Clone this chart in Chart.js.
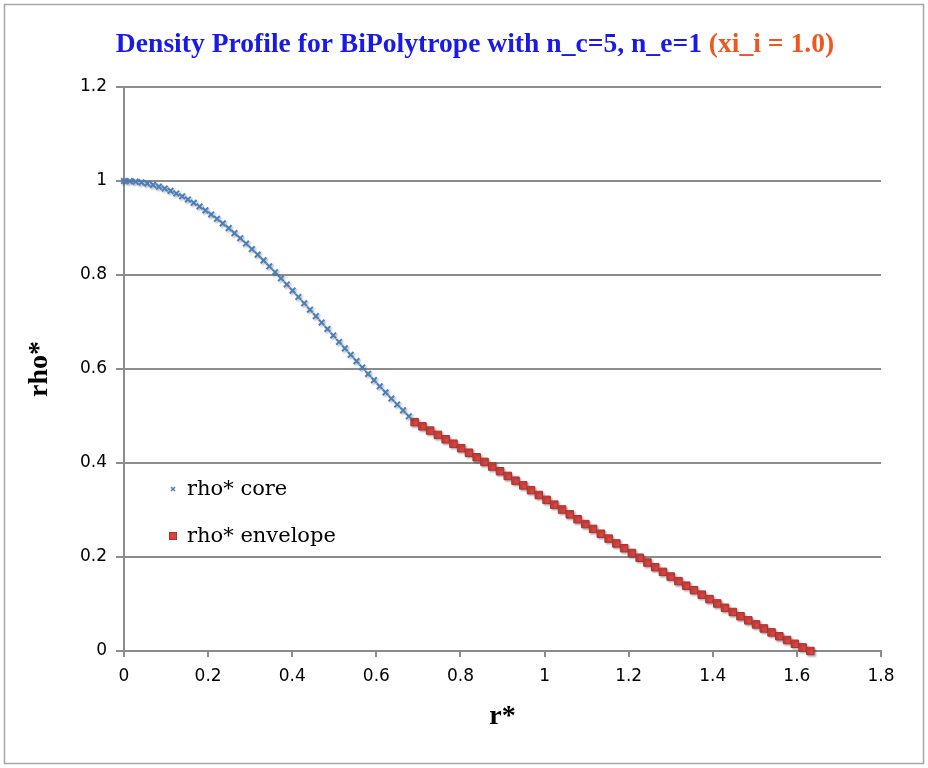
<!DOCTYPE html>
<html>
<head>
<meta charset="utf-8">
<script src="https://cdn.jsdelivr.net/npm/chart.js@4.4.0/dist/chart.umd.min.js"></script>
<style>
  body { margin: 0; background: #fff; }
  canvas { display: block; }
</style>
</head>
<body>
<canvas id="densityChart" width="928" height="768"></canvas>
<script>
// values
const coreR = [
  0, 0.0138, 0.0276, 0.0415, 0.0553, 0.0691, 0.0829, 0.0967, 0.1106, 0.1244,
  0.1382, 0.1520, 0.1658, 0.1797, 0.1935, 0.2073, 0.2211, 0.2349, 0.2488, 0.2626,
  0.2764, 0.2902, 0.3040, 0.3179, 0.3317, 0.3455, 0.3593, 0.3731, 0.3870, 0.4008,
  0.4146, 0.4284, 0.4422, 0.4561, 0.4699, 0.4837, 0.4975, 0.5113, 0.5252, 0.5390,
  0.5528, 0.5666, 0.5804, 0.5943, 0.6081, 0.6219, 0.6357, 0.6495, 0.6634, 0.6772
];
const coreRho = [
  1.0000, 0.9997, 0.9987, 0.9970, 0.9947, 0.9917, 0.9881, 0.9839, 0.9790, 0.9735,
  0.9674, 0.9608, 0.9536, 0.9458, 0.9375, 0.9288, 0.9195, 0.9098, 0.8997, 0.8891,
  0.8782, 0.8669, 0.8553, 0.8433, 0.8311, 0.8186, 0.8059, 0.7930, 0.7799, 0.7667,
  0.7533, 0.7398, 0.7262, 0.7125, 0.6988, 0.6851, 0.6713, 0.6576, 0.6439, 0.6303,
  0.6167, 0.6032, 0.5897, 0.5764, 0.5632, 0.5502, 0.5372, 0.5245, 0.5119, 0.4994
];
const envR = [
  0.6910, 0.7095, 0.7279, 0.7464, 0.7648, 0.7833, 0.8017, 0.8202, 0.8386, 0.8571,
  0.8755, 0.8940, 0.9124, 0.9309, 0.9493, 0.9678, 0.9862, 1.0047, 1.0231, 1.0416,
  1.0600, 1.0785, 1.0969, 1.1154, 1.1338, 1.1523, 1.1707, 1.1892, 1.2076, 1.2261,
  1.2445, 1.2630, 1.2814, 1.2999, 1.3183, 1.3368, 1.3552, 1.3737, 1.3921, 1.4106,
  1.4290, 1.4475, 1.4659, 1.4844, 1.5028, 1.5213, 1.5397, 1.5582, 1.5766, 1.5951,
  1.6135, 1.6320
];
const envRho = [
  0.4870, 0.4781, 0.4690, 0.4598, 0.4505, 0.4411, 0.4315, 0.4219, 0.4122, 0.4024,
  0.3925, 0.3825, 0.3725, 0.3624, 0.3524, 0.3422, 0.3319, 0.3216, 0.3114, 0.3011,
  0.2908, 0.2804, 0.2701, 0.2598, 0.2495, 0.2392, 0.2289, 0.2187, 0.2086, 0.1984,
  0.1883, 0.1783, 0.1684, 0.1585, 0.1487, 0.1390, 0.1294, 0.1199, 0.1105, 0.1012,
  0.0920, 0.0830, 0.0740, 0.0652, 0.0566, 0.0480, 0.0396, 0.0314, 0.0233, 0.0154,
  0.0076, 0.0000
];
const xTicks = [0, 0.2, 0.4, 0.6, 0.8, 1, 1.2, 1.4, 1.6, 1.8];
const yTicks = [0, 0.2, 0.4, 0.6, 0.8, 1, 1.2];
const seriesNames = ['rho* core', 'rho* envelope'];
const titleMain = 'Density Profile for BiPolytrope with n_c=5, n_e=1 ';
const titleExtra = '(xi_i = 1.0)';

const toPoints = (xs, ys) => xs.map((x, i) => ({ x: x, y: ys[i] }));
const fmt = v => String(Math.round(v * 10) / 10);

const gridGrey = '#8c8c8c';
const coreBlue = '#4a7ebb';
const envRed = '#d9433f';
const envEdge = '#a83230';

// white page + thin grey frame
const frame = {
  id: 'frame',
  beforeDraw(chart) {
    const ctx = chart.ctx;
    ctx.save();
    ctx.fillStyle = '#fff';
    ctx.fillRect(0, 0, chart.width, chart.height);
    ctx.strokeStyle = '#a6a6a6';
    ctx.lineWidth = 1.5;
    ctx.strokeRect(4.5, 4.5, chart.width - 9, chart.height - 9);
    ctx.restore();
  }
};

// two-colour title
const twoTone = {
  id: 'twoTone',
  afterDraw(chart) {
    const ctx = chart.ctx;
    ctx.save();
    ctx.font = 'bold 27.6px "Liberation Serif"';
    ctx.textBaseline = 'alphabetic';
    const w1 = ctx.measureText(titleMain).width;
    const w2 = ctx.measureText(titleExtra).width;
    let x = 475 - (w1 + w2) / 2;
    ctx.fillStyle = '#1a1ae8';
    ctx.fillText(titleMain, x, 52);
    ctx.fillStyle = '#f0561e';
    ctx.fillText(titleExtra, x + w1, 52);
    ctx.restore();
  }
};

// soft shadow under the markers
const markerShadow = {
  id: 'markerShadow',
  beforeDatasetsDraw(chart) {
    const ctx = chart.ctx;
    ctx.save();
    ctx.shadowColor = 'rgba(0,0,0,0.28)';
    ctx.shadowBlur = 2;
    ctx.shadowOffsetX = 1.5;
    ctx.shadowOffsetY = 1.5;
  },
  afterDatasetsDraw(chart) {
    chart.ctx.restore();
  }
};

// legend sitting inside the plot
const innerLegend = {
  id: 'innerLegend',
  afterDatasetsDraw(chart) {
    const ctx = chart.ctx;
    ctx.save();
    ctx.font = '21px "DejaVu Serif"';
    ctx.textBaseline = 'middle';
    chart.data.datasets.forEach((ds, i) => {
      const x = 173, y = 489 + i * 47;
      if (i === 0) {
        ctx.strokeStyle = ds.borderColor;
        ctx.lineWidth = 1.5;
        ctx.beginPath();
        ctx.moveTo(x - 2, y - 2); ctx.lineTo(x + 2, y + 2);
        ctx.moveTo(x - 2, y + 2); ctx.lineTo(x + 2, y - 2);
        ctx.stroke();
      } else {
        ctx.fillStyle = ds.backgroundColor;
        ctx.strokeStyle = ds.borderColor;
        ctx.lineWidth = 1;
        ctx.fillRect(x - 3.5, y - 3.5, 7, 7);
        ctx.strokeRect(x - 3.5, y - 3.5, 7, 7);
      }
      ctx.fillStyle = '#000';
      ctx.fillText(ds.label, 187, y + 1);
    });
    ctx.restore();
  }
};

const ctx = document.getElementById('densityChart').getContext('2d');
new Chart(ctx, {
  type: 'scatter',
  data: {
    datasets: [{
      label: seriesNames[0],
      data: toPoints(coreR, coreRho),
      pointStyle: 'crossRot',
      pointRadius: 4,
      borderWidth: 2,
      borderColor: coreBlue,
      backgroundColor: coreBlue,
      clip: false
    }, {
      label: seriesNames[1],
      data: toPoints(envR, envRho),
      pointStyle: 'rect',
      pointRadius: 5.3,
      borderWidth: 1,
      borderColor: envEdge,
      backgroundColor: envRed,
      clip: false
    }]
  },
  options: {
    responsive: false,
    animation: false,
    layout: { padding: { top: 87, right: 47, left: 0, bottom: 0 } },
    plugins: {
      legend: { display: false },
      title: { display: false },
      tooltip: { enabled: false }
    },
    scales: {
      x: {
        type: 'linear',
        min: 0,
        max: 1.8,
        afterFit: s => { s.height = 117; },
        afterBuildTicks: s => { s.ticks = xTicks.map(v => ({ value: v })); },
        grid: { drawOnChartArea: false, drawTicks: true, tickLength: 6, color: gridGrey, lineWidth: 2 },
        border: { color: gridGrey, width: 2 },
        ticks: {
          color: '#000',
          padding: 9,
          maxRotation: 0,
          font: { family: 'DejaVu Sans', size: 17 },
          callback: v => fmt(v)
        },
        title: {
          display: true,
          text: 'r*',
          color: '#000',
          font: { family: 'Liberation Serif', size: 28, weight: 'bold' },
          padding: { top: 0, bottom: 34 }
        }
      },
      y: {
        type: 'linear',
        min: 0,
        max: 1.2,
        afterFit: s => { s.width = 124; },
        afterBuildTicks: s => { s.ticks = yTicks.map(v => ({ value: v })); },
        grid: { drawTicks: true, tickLength: 8, color: gridGrey, lineWidth: 2 },
        border: { color: gridGrey, width: 2 },
        ticks: {
          color: '#000',
          padding: 9,
          font: { family: 'DejaVu Sans', size: 17 },
          callback: v => fmt(v)
        },
        title: {
          display: true,
          text: 'rho*',
          color: '#000',
          font: { family: 'Liberation Serif', size: 28, weight: 'bold' },
          padding: { top: 23, bottom: 0 }
        }
      }
    }
  },
  plugins: [frame, markerShadow, innerLegend, twoTone]
});
</script>
</body>
</html>
